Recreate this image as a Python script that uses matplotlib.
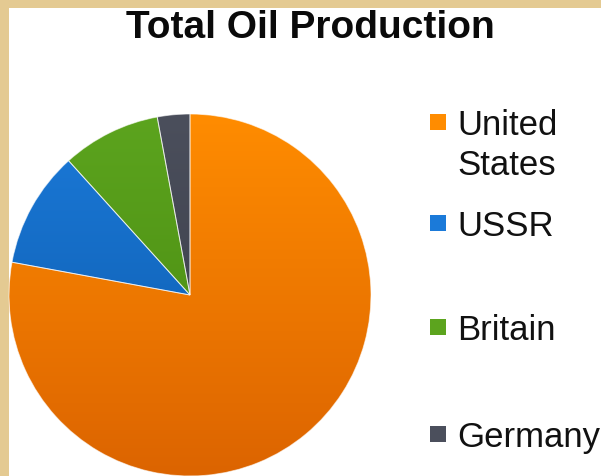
import numpy as np
import matplotlib
matplotlib.use("Agg")
import matplotlib.pyplot as plt
from matplotlib.patches import Rectangle
from matplotlib.colors import LinearSegmentedColormap

# Data (shares, percent)
countries = ["United\nStates", "USSR", "Britain", "Germany"]
shares = [77.9, 10.4, 8.8, 2.9]

# slice colours, top and bottom of the gradient
top_colors = ["#FF8C00", "#1B7AD9", "#5CA41E", "#4B4F5C"]
bottom_colors = ["#DC6400", "#0C58A8", "#47870F", "#383B46"]

W, H = 601, 477
parchment = "#E4CA92"
font = "Liberation Sans"


def fx(px):
    return px / W


def fy(py):
    # pixel from top -> figure fraction from bottom
    return 1 - py / H


fig = plt.figure(figsize=(W / 100, H / 100), dpi=100)
fig.patch.set_facecolor(parchment)

# white slide panel
fig.patches.append(Rectangle((fx(9), 0), fx(W - 9), 1 - 9 / H,
                             transform=fig.transFigure, facecolor="white",
                             edgecolor="none", zorder=-5))

# pie: centre (190, 296), radius 181 px
r = 181
ax = fig.add_axes([fx(190 - r), fy(296 + r), fx(2 * r), 2 * r / H])
ax.set_zorder(2)
ax.patch.set_visible(False)
wedges, _ = ax.pie(shares, startangle=90, counterclock=False, radius=1,
                   wedgeprops=dict(linewidth=0.7, edgecolor=(1, 1, 1, 0.6)))

grad = np.linspace(0, 1, 256).reshape(-1, 1)
for w, c1, c2 in zip(wedges, top_colors, bottom_colors):
    cmap = LinearSegmentedColormap.from_list("g", [c1, c2])
    im = ax.imshow(grad, cmap=cmap, extent=[-1, 1, -1, 1], aspect="auto",
                   origin="upper", zorder=1)
    im.set_clip_path(w)
    w.set_facecolor("none")
    w.set_zorder(3)

ax.set_xlim(-1, 1)
ax.set_ylim(-1, 1)
ax.set_aspect("equal")
ax.axis("off")

# title
fig.text(fx(310), fy(38), "Total Oil Production", ha="center", va="baseline",
         fontsize=28, fontweight="bold", family=font, color="#0A0A0A")

# legend, drawn by hand to keep the slide's uneven spacing
baselines = [135, 236, 340, 447]
for label, base, col in zip(countries, baselines, top_colors):
    fig.patches.append(Rectangle((fx(430), fy(base - 4)), fx(16), 16 / H,
                                 transform=fig.transFigure,
                                 facecolor=col, edgecolor="none"))
    for i, line in enumerate(label.split("\n")):
        fig.text(fx(457), fy(base + 40 * i), line, ha="left", va="baseline",
                 fontsize=25, family=font, color="#111111")

fig.savefig("out.png", dpi=100, facecolor=fig.get_facecolor())
